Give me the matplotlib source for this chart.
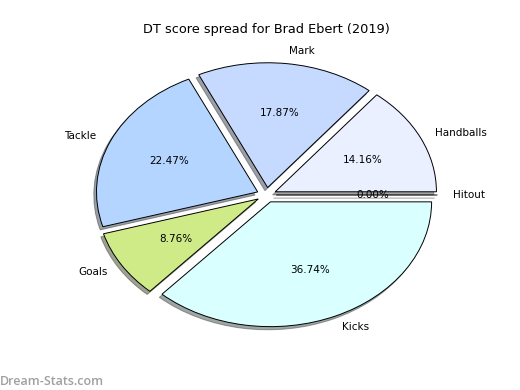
import matplotlib
matplotlib.use('Agg')
import matplotlib.pyplot as plt

# DT score breakdown
categorias = ['Handballs', 'Mark', 'Tackle', 'Goals', 'Kicks', 'Hitout']
valores = [14.16, 17.87, 22.47, 8.76, 36.74, 0.0]
cores = ['#eaf0ff', '#c6d9ff', '#b3d5ff', '#cfeb88', '#d9ffff', '#e0e0ff']
explodir = [0.06] * len(valores)

fig = plt.figure(figsize=(5.2, 3.9), dpi=100)
ax = fig.add_axes([0.125, 0.1, 0.775, 0.8])

fatias, textos, pcts = ax.pie(valores, labels=categorias, colors=cores, explode=explodir,
                              autopct='%.2f%%', shadow={'ox': -0.012, 'oy': -0.018},
                              startangle=0,
                              wedgeprops={'edgecolor': 'black', 'linewidth': 0.7},
                              textprops={'fontsize': 7.5})
ax.set_aspect('auto')
ax.set_title('DT score spread for Brad Ebert (2019)', fontsize=9.3, pad=4)

fig.text(0.0, 0.006, 'Dream-Stats.com', color='#a0a0a0', fontsize=9, fontweight='semibold',
         family='Open Sans', ha='left', va='bottom')

fig.savefig('out.png', dpi=100)
